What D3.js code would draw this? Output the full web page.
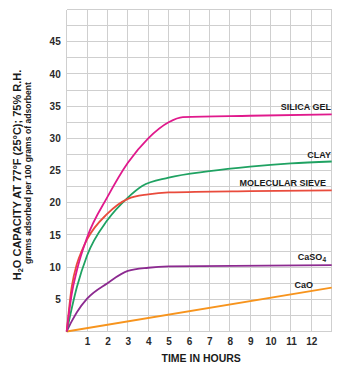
<!DOCTYPE html>
<html>
<head>
<meta charset="utf-8">
<script src="https://cdn.jsdelivr.net/npm/d3@7"></script>
<style>
  html, body { margin: 0; padding: 0; background: #fff; }
  svg { display: block; font-family: "Liberation Sans", Arial, sans-serif; }
</style>
</head>
<body>
<svg id="chart" width="355" height="372"></svg>
<script>
// ---- data ----
const silicaGel = [[0,0],[0.25,5.9],[0.5,9.5],[1,14.6],[2,20.9],[3,26.2],[4,30.0],[5,32.5],[5.7,33.3],[9,33.5],[13,33.7]];
const clay = [[0,0],[0.5,6.9],[1,11.8],[2,17.3],[3,20.8],[3.7,22.6],[5,23.9],[7,24.9],[9,25.6],[11,26.1],[13,26.4]];
const molecularSieve = [[0,0],[0.25,7.0],[0.5,10.5],[0.75,12.6],[1,14.3],[2,18.3],[3,20.6],[4,21.3],[5,21.6],[9,21.8],[13,21.9]];
const caSO4 = [[0,0],[0.25,1.6],[0.5,3.0],[1,5.1],[2,7.5],[3,9.4],[4,9.9],[5,10.1],[13,10.3]];
const caO = [[0,0],[13,6.8]];
const seriesNames = ["SILICA GEL", "CLAY", "MOLECULAR SIEVE", "CaSO4", "CaO"];
const xTicks = [1,2,3,4,5,6,7,8,9,10,11,12];
const yTicks = [5,10,15,20,25,30,35,40,45];
const xTitle = "TIME IN HOURS";
const yTitle1 = ["H", "2", "O CAPACITY AT 77°F (25°C); 75% R.H."];
const yTitle2 = "grams adsorbed per 100 grams of adsorbent";

// ---- layout ----
const L = 66.7, R = 331.7, T = 9.5, B = 331.5;
const svg = d3.select("#chart");
const x = d3.scaleLinear().domain([0, 13]).range([L, R]);
const y = d3.scaleLinear().domain([0, 50]).range([B, T]);

// grid
const grid = svg.append("g").attr("stroke", "#cfcfcf").attr("stroke-width", 1).attr("shape-rendering", "crispEdges");
grid.selectAll("line.v").data(d3.range(0, 14)).join("line")
  .attr("x1", d => x(d)).attr("x2", d => x(d)).attr("y1", T).attr("y2", B);
grid.selectAll("line.h").data(d3.range(0, 50.01, 2.5)).join("line")
  .attr("x1", L).attr("x2", R).attr("y1", d => y(d)).attr("y2", d => y(d));

// axes (labels only)
const yAxis = d3.axisLeft(y).tickValues(yTicks).tickSize(0).tickPadding(6);
const yg = svg.append("g").attr("transform", `translate(${L},0)`).call(yAxis);
yg.select(".domain").remove();
yg.selectAll("text").attr("font-size", 10).attr("font-weight", "bold").attr("fill", "#2a2a2a")
  .attr("font-family", "'Liberation Sans', Arial, sans-serif");

const xAxis = d3.axisBottom(x).tickValues(xTicks).tickSize(0).tickPadding(6);
const xg = svg.append("g").attr("transform", `translate(0,${B})`).call(xAxis);
xg.select(".domain").remove();
xg.selectAll("text").attr("font-size", 10).attr("font-weight", "bold").attr("fill", "#2a2a2a")
  .attr("font-family", "'Liberation Sans', Arial, sans-serif");

// curves
const line = d3.line().x(d => x(d[0])).y(d => y(d[1])).curve(d3.curveMonotoneX);
const series = [
  { data: caO, color: "#f7941d" },
  { data: caSO4, color: "#8c2a90" },
  { data: clay, color: "#1fa262" },
  { data: molecularSieve, color: "#e94b3c" },
  { data: silicaGel, color: "#e0198c" }
];
svg.append("g").selectAll("path").data(series).join("path")
  .attr("d", d => line(d.data)).attr("fill", "none")
  .attr("stroke", d => d.color).attr("stroke-width", 1.8);

// series labels
const labelG = svg.append("g").attr("font-size", 9).attr("font-weight", "bold").attr("fill", "#1a1a1a").attr("text-anchor", "end");
labelG.append("text").attr("x", 331).attr("y", 110).text(seriesNames[0]);
labelG.append("text").attr("x", 331).attr("y", 157.7).text(seriesNames[1]);
labelG.append("text").attr("x", 326).attr("y", 185.7).text(seriesNames[2]);
const cs = labelG.append("text").attr("x", 326).attr("y", 260);
cs.append("tspan").text("CaSO");
cs.append("tspan").attr("font-size", 6.5).attr("dy", 2).text("4");
labelG.append("text").attr("x", 313).attr("y", 287.7).text(seriesNames[4]);

// axis titles
svg.append("text").attr("x", (L + R) / 2 + 2).attr("y", 361.5).attr("text-anchor", "middle")
  .attr("font-size", 10.5).attr("font-weight", "bold").attr("fill", "#1a1a1a").text(xTitle);

const t1 = svg.append("text").attr("transform", "translate(20.7,175) rotate(-90)")
  .attr("text-anchor", "middle").attr("font-size", 11).attr("font-weight", "bold").attr("fill", "#1a1a1a");
t1.append("tspan").text(yTitle1[0]);
t1.append("tspan").attr("font-size", 7.5).attr("dy", 2.5).text(yTitle1[1]);
t1.append("tspan").attr("dy", -2.5).text(yTitle1[2]);

svg.append("text").attr("transform", "translate(30.5,173) rotate(-90)")
  .attr("text-anchor", "middle").attr("font-size", 8.6).attr("font-weight", "bold").attr("fill", "#1a1a1a")
  .text(yTitle2);
</script>
</body>
</html>
